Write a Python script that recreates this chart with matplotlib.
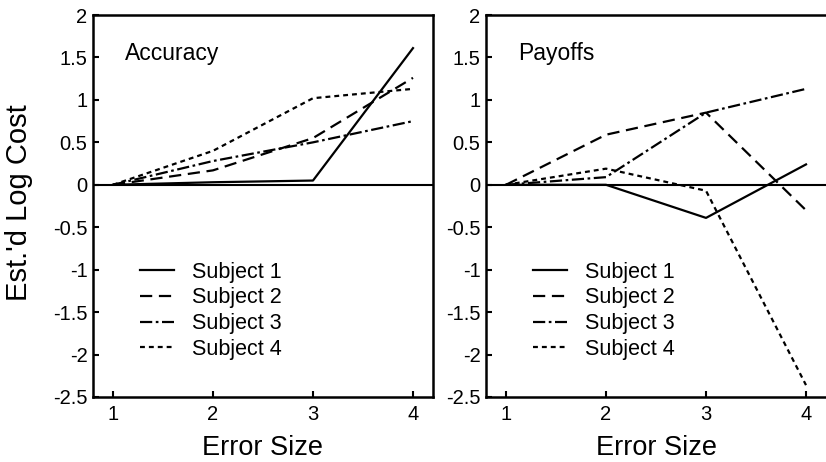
import numpy as np
import matplotlib.pyplot as plt
from matplotlib.ticker import FuncFormatter

plt.rcParams["font.family"] = ["Liberation Sans", "DejaVu Sans"]
plt.rcParams["axes.unicode_minus"] = False

error_size = [1, 2, 3, 4]
subjects = ["Subject 1", "Subject 2", "Subject 3", "Subject 4"]

# Accuracy panel
acc_s1 = [0.0, 0.03, 0.05, 1.61]
acc_s2 = [0.0, 0.17, 0.55, 1.26]
acc_s3 = [0.0, 0.28, 0.50, 0.75]
acc_s4 = [0.0, 0.40, 1.02, 1.13]

# Payoffs panel
pay_s1 = [0.0, 0.0, -0.39, 0.24]
pay_s2 = [0.0, 0.59, 0.85, -0.30]
pay_s3 = [0.0, 0.09, 0.85, 1.13]
pay_s4 = [0.0, 0.19, -0.07, -2.36]

yticks = [-2.5, -2, -1.5, -1, -0.5, 0, 0.5, 1, 1.5, 2]

styles = ["-", (0, (5.5, 3)), (0, (5.5, 1.6, 1.2, 1.6)), (0, (2.2, 1.8))]

fig = plt.figure(figsize=(8.26, 4.62), dpi=100)
ax1 = fig.add_axes([0.1126, 0.1407, 0.4116, 0.8268])
ax2 = fig.add_axes([0.5884, 0.1407, 0.4116, 0.8268])

panels = [
    (ax1, "Accuracy", [acc_s1, acc_s2, acc_s3, acc_s4]),
    (ax2, "Payoffs", [pay_s1, pay_s2, pay_s3, pay_s4]),
]

for ax, title, series in panels:
    ax.axhline(0, color="k", linewidth=1.5, zorder=1)
    for i, vals in enumerate(series):
        ax.plot(error_size, vals, color="k", linestyle=styles[i],
                linewidth=1.6, label=subjects[i])
    ax.set_xlim(0.8, 4.2)
    ax.set_ylim(-2.5, 2)
    ax.set_xticks(error_size)
    ax.set_yticks(yticks)
    ax.yaxis.set_major_formatter(FuncFormatter(lambda v, p: "%g" % v))
    ax.tick_params(direction="in", length=4, width=1.5, labelsize=14.5, pad=4)
    ax.tick_params(axis="x", pad=6)
    for s in ax.spines.values():
        s.set_linewidth(1.8)
    ax.text(0.094, 0.90, title, transform=ax.transAxes, fontsize=16.5,
            va="center", ha="left")
    ax.set_xlabel("Error Size", fontsize=19.5)
    ax.xaxis.set_label_coords(0.5, -0.10)
    ax.legend(loc="upper left", bbox_to_anchor=(0.082, 0.405), frameon=False,
              fontsize=15.5, handlelength=1.55, labelspacing=0.22,
              handletextpad=0.85)

ax2.spines["right"].set_visible(False)

ax1.set_ylabel("Est.'d Log Cost", fontsize=21)
ax1.yaxis.set_label_coords(-0.176, 0.508)

fig.savefig("out.png", dpi=100)
